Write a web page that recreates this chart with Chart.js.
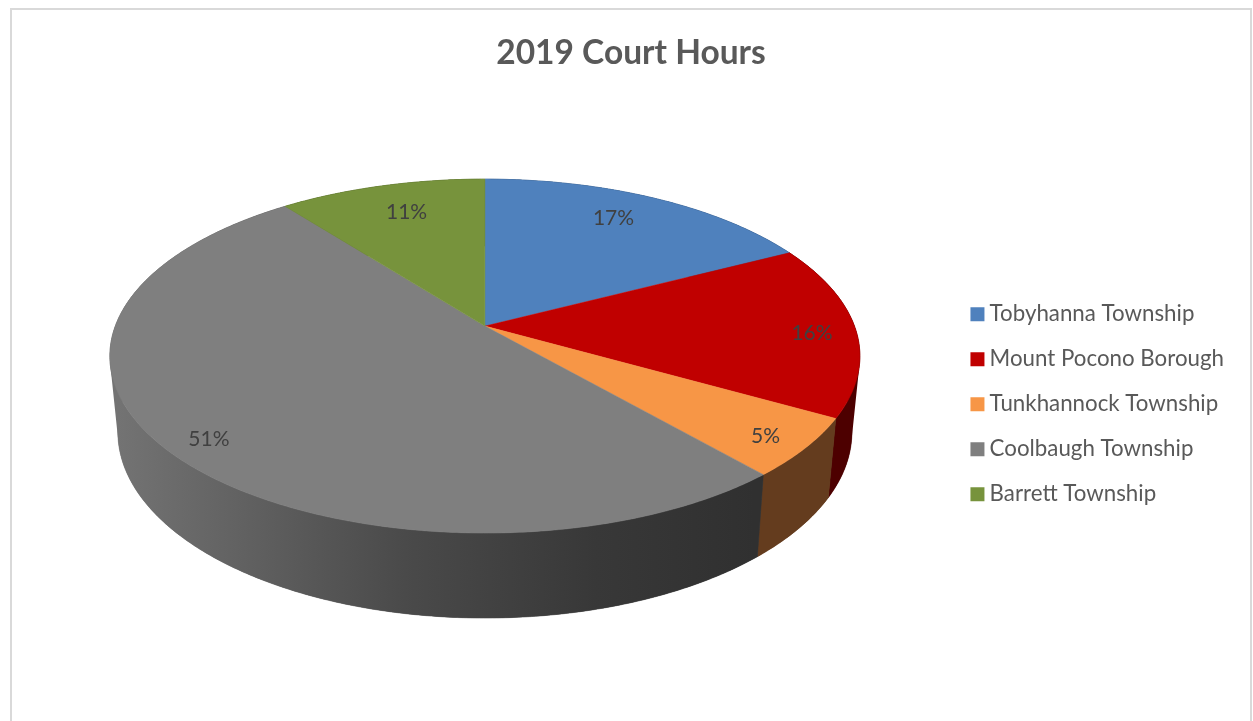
<!DOCTYPE html>
<html lang="en">

<head>
  <meta charset="UTF-8">
  <title>2019 Court Hours</title>
  <script src="https://cdn.jsdelivr.net/npm/chart.js"></script>
  <style>
    * {
      margin: 0;
      padding: 0;
      box-sizing: border-box;
    }

    body {
      background: #fff;
      overflow: hidden;
    }

    .frame {
      position: absolute;
      left: 10px;
      top: 8px;
      width: 1242px;
      height: 760px;
      border: 2px solid #d9d9d9;
    }

    canvas {
      position: absolute;
      left: 0;
      top: 0;
    }
  </style>
</head>

<body>
  <div class="frame">
    <canvas id="chart" width="1238" height="711"></canvas>
  </div>

  <script>
    const titleText = '2019 Court Hours';
    const townships = ['Tobyhanna Township', 'Mount Pocono Borough', 'Tunkhannock Township', 'Coolbaugh Township', 'Barrett Township'];
    const hoursShare = [17.4, 15.8, 5.39, 50.91, 10.5];

    const topColors = ['#4f81bd', '#c00000', '#f79646', '#7f7f7f', '#77933c'];
    const wallColors = ['#2f4d71', '#4d0000', '#643c1e', null, '#47581f'];
    const labelReach = [0.80, 0.88, 0.897, 0.896, 0.785];
    const labelSwing = [-2.2, 1.5, 1, -2, 1.2];   // degrees off the middle of the slice

    // look of the tilted disc, all in units of the pie radius
    const PIE_RADIUS = 236;
    const SHIFT_X = -6;
    const SHIFT_Y = 18.5;
    const SPREAD_X = 369.6 / PIE_RADIUS;
    const SPREAD_Y = 171.9 / PIE_RADIUS;
    const NEAR = 0.1695;
    const RIM_Y = 30 / PIE_RADIUS;       // centre of the top ellipse below the apex
    const FLOOR_Y = 106 / PIE_RADIUS;    // centre of the bottom ellipse below the apex
    const FLOOR_X = 367 / 375;
    const FLOOR_H = 186 / 177;

    function project(el, angle, reach, floor) {
      const u = Math.cos(angle) * reach;
      const v = Math.sin(angle) * reach;
      const w = 1 - NEAR * v;
      let px = SPREAD_X * u / w;
      let py = SPREAD_Y * v / w;
      if (floor) {
        px *= FLOOR_X;
        py = FLOOR_Y + (py - RIM_Y) * FLOOR_H;
      }
      const r = el.outerRadius;
      return { x: el.x + SHIFT_X + px * r, y: el.y + SHIFT_Y + py * r };
    }

    function arcPoints(el, floor) {
      const pts = [];
      const steps = Math.max(2, Math.ceil((el.endAngle - el.startAngle) / 0.01));
      for (let i = 0; i <= steps; i++) {
        const a = el.startAngle + (el.endAngle - el.startAngle) * i / steps;
        pts.push(project(el, a, 1, floor));
      }
      return pts;
    }

    function paintPath(ctx, pts, color) {
      ctx.beginPath();
      pts.forEach((p, i) => i ? ctx.lineTo(p.x, p.y) : ctx.moveTo(p.x, p.y));
      ctx.closePath();
      ctx.fillStyle = color;
      ctx.strokeStyle = color;
      ctx.lineWidth = 0.5;
      ctx.fill();
      ctx.stroke();
    }

    // one path of same-handed quads, so the rim and floor join along the silhouette
    function paintWall(ctx, rim, floor, color) {
      ctx.beginPath();
      for (let k = 0; k < rim.length - 1; k++) {
        let quad = [rim[k], rim[k + 1], floor[k + 1], floor[k]];
        let area = 0;
        quad.forEach((p, i) => {
          const q = quad[(i + 1) % 4];
          area += p.x * q.y - q.x * p.y;
        });
        if (area < 0) quad = quad.reverse();
        quad.forEach((p, i) => i ? ctx.lineTo(p.x, p.y) : ctx.moveTo(p.x, p.y));
        ctx.closePath();
      }
      ctx.fillStyle = color;
      ctx.fill();
      paintPath(ctx, rim.concat(floor.slice().reverse()), color);
    }

    const tiltedPie = {
      id: 'tiltedPie',
      beforeDatasetsDraw(chart) {
        const ctx = chart.ctx;
        const arcs = chart.getDatasetMeta(0).data;
        const first = arcs[0];

        const shade = ctx.createLinearGradient(first.x + SHIFT_X - 367, 0, first.x + SHIFT_X + 270, 0);
        shade.addColorStop(0, '#737373');
        shade.addColorStop(0.45, '#4a4a4a');
        shade.addColorStop(0.75, '#383838');
        shade.addColorStop(1, '#303030');

        // walls first, the top faces cover whatever is on the far side
        arcs.forEach((el, i) => {
          paintWall(ctx, arcPoints(el, false), arcPoints(el, true), wallColors[i] || shade);
        });

        arcs.forEach((el, i) => {
          const apex = project(el, 0, 0, false);
          paintPath(ctx, [apex].concat(arcPoints(el, false)), topColors[i]);
        });

        ctx.save();
        ctx.font = '21px Lato';
        ctx.fillStyle = '#404040';
        ctx.textAlign = 'center';
        ctx.textBaseline = 'middle';
        arcs.forEach((el, i) => {
          const mid = (el.startAngle + el.endAngle) / 2 + labelSwing[i] * Math.PI / 180;
          const p = project(el, mid, labelReach[i], false);
          ctx.fillText(Math.round(hoursShare[i]) + '%', p.x, p.y);
        });
        ctx.restore();

        return false;
      }
    };

    new Chart(document.getElementById('chart'), {
      type: 'pie',
      data: {
        labels: townships,
        datasets: [{
          data: hoursShare,
          backgroundColor: topColors,
          borderWidth: 0,
          radius: PIE_RADIUS
        }]
      },
      options: {
        responsive: false,
        animation: false,
        layout: {
          padding: { left: 16, right: 16, bottom: 193 }
        },
        plugins: {
          tooltip: { enabled: false },
          title: {
            display: true,
            text: titleText,
            color: '#595959',
            font: { family: 'Lato', size: 33.5, weight: 'bold' },
            padding: { top: 23, bottom: 14 }
          },
          legend: {
            position: 'right',
            align: 'end',
            labels: {
              color: '#595959',
              font: { family: 'Lato', size: 22.3 },
              usePointStyle: true,
              pointStyle: 'rect',
              boxWidth: 2,
              boxHeight: 14,
              padding: 22.7
            }
          }
        }
      },
      plugins: [tiltedPie]
    });
  </script>
</body>

</html>
